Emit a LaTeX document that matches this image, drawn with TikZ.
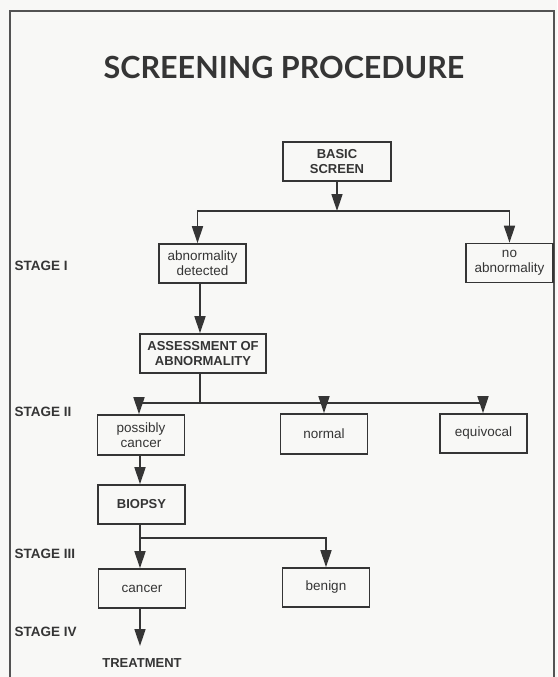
\documentclass[tikz,border=0pt]{standalone}
\usepackage{fontspec}
\setmainfont{Liberation Sans}
\newfontfamily\titlefont{Lato}
\usepackage{xcolor}
\usetikzlibrary{arrows.meta}

\definecolor{ink}{HTML}{353535}
\definecolor{paper}{HTML}{F8F8F6}

\tikzset{
    box/.style={draw=ink, line width=1.6pt, minimum width=87pt, minimum height=39pt,
        inner sep=1pt, align=center, text=ink, font=\fontsize{13.5}{15}\selectfont},
    boldbox/.style={box, font=\fontsize{13}{15}\selectfont\bfseries},
    arr/.style={-{Triangle[length=17pt,width=11pt]}, draw=ink, line width=1.6pt},
    stage/.style={anchor=west, text=ink, font=\fontsize{13.5}{14}\selectfont\bfseries}
}

\begin{document}
\begin{tikzpicture}[x=1pt, y=-1pt]
    \fill[paper] (0,0) rectangle (557,677);
    \useasboundingbox (0,0) rectangle (557,677);
    % frame
    \draw[ink!85, line width=1.5pt] (10,677) -- (10,11) -- (554,11) -- (554,677);

    \node[text=ink, font=\titlefont\fontsize{30.5}{36}\selectfont\bfseries] (title) at (284,67) {SCREENING PROCEDURE};

    % stage labels
    \node[stage] (s1) at (11,266) {STAGE I};
    \node[stage] (s2) at (11,412) {STAGE II};
    \node[stage] (s3) at (11,554) {STAGE III};
    \node[stage] (s4) at (11,632) {STAGE IV};

    % boxes
    \node[boldbox, minimum width=108pt] (basic) at (337,161.5) {BASIC\\SCREEN};
    \node[box] (abn) at (202.5,263.5) {abnormality\\detected};
    \node[box] (noabn) at (509.5,263) {no\\abnormality};
    \node[boldbox, minimum width=126pt] (assess) at (203,353.5) {ASSESSMENT OF\\ABNORMALITY};
    \node[box, minimum height=40pt] (poss) at (141,435) {possibly\\cancer};
    \node[box, minimum height=40pt] (normal) at (324,434) {normal};
    \node[box] (equiv) at (483.5,433.5) {equivocal};
    \node[boldbox] (biopsy) at (141.5,504.5) {BIOPSY};
    \node[box] (cancer) at (142,588.5) {cancer};
    \node[box] (benign) at (326,587.5) {benign};
    \node[text=ink, font=\fontsize{13}{15}\selectfont\bfseries] (treat) at (142,663) {TREATMENT};

    % connectors
    \coordinate (split1) at (337,211);
    \coordinate (split2) at (200,403);
    \coordinate (split3) at (140,538);
    \coordinate (treatin) at (140,646);

    \draw[arr] (basic) -- (split1);
    \draw[arr] (split1) -| ([xshift=-5pt]abn.north);
    \draw[arr] (split1) -| (noabn);
    \draw[arr] ([xshift=-2.5pt]abn.south) -- ([xshift=-3pt]assess.north);
    \draw[ink, line width=1.6pt] ([xshift=-3pt]assess.south) -- (split2);
    \draw[arr] (split2) -| ([xshift=-2pt]poss.north);
    \draw[arr] (split2) -| (normal);
    \draw[arr] (split2) -| ([xshift=-0.5pt]equiv.north);
    \draw[arr] ([xshift=-1pt]poss.south) -- ([xshift=-1.5pt]biopsy.north);
    \draw[ink, line width=1.6pt] ([xshift=-1.5pt]biopsy.south) -- (split3);
    \draw[arr] (split3) -- ([xshift=-2pt]cancer.north);
    \draw[arr] (split3) -| (benign);
    \draw[arr] ([xshift=-2pt]cancer.south) -- (treatin);
\end{tikzpicture}
\end{document}
